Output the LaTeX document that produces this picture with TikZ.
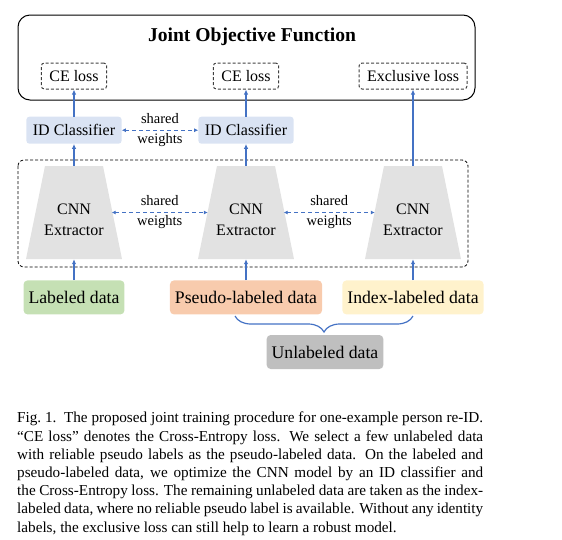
\documentclass[tikz,border=0pt]{standalone}
\usepackage{fontspec}
\setmainfont{Liberation Serif}
\usepackage{tikz}
\usetikzlibrary{positioning,arrows.meta,decorations.pathreplacing}

\definecolor{flowblue}{HTML}{4472C4}
\definecolor{clfblue}{HTML}{DAE3F3}
\definecolor{cnngray}{HTML}{E2E2E2}
\definecolor{labgreen}{HTML}{C5E0B4}
\definecolor{pseorange}{HTML}{F8CBAD}
\definecolor{idxyellow}{HTML}{FFF2CC}
\definecolor{unlgray}{HTML}{BFBFBF}

\begin{document}
\begin{tikzpicture}[x=1pt, y=-1pt, >={Latex[length=5pt,width=4.5pt]},
  lossbox/.style={draw=black!75, dash pattern=on 3pt off 2pt, line width=1pt,
    rounded corners=3pt, minimum height=26pt, inner xsep=8pt,
    font=\fontsize{16}{19}\selectfont},
  clfbox/.style={fill=clfblue, rounded corners=3pt, minimum height=27pt,
    inner xsep=6.5pt, font=\fontsize{16}{19}\selectfont},
  cnnbox/.style={minimum width=96pt, minimum height=93pt, path picture={
    \fill[cnngray] ([xshift=19pt]path picture bounding box.north west)
      -- ([xshift=-19pt]path picture bounding box.north east)
      -- (path picture bounding box.south east)
      -- (path picture bounding box.south west) -- cycle;}},
  cnntext/.style={align=center, font=\fontsize{16}{21}\selectfont},
  databox/.style={rounded corners=4pt, minimum height=34pt, inner xsep=5pt,
    font=\fontsize{17.7}{20}\selectfont},
  flow/.style={->, draw=flowblue, line width=1.2pt},
  sharedw/.style={<->, draw=flowblue, line width=1.2pt,
    dash pattern=on 4pt off 3pt, >={Latex[length=4pt,width=4pt]}},
  swlabel/.style={align=center, text=black, font=\fontsize{14.5}{20}\selectfont}]
  \useasboundingbox (0,0) rectangle (562,539);

  % objective
  \draw[line width=1pt, rounded corners=12pt] (18,15) rectangle (475,100);
  \node (title) at (252,37) {\fontsize{19.6}{22}\selectfont\bfseries Joint Objective Function};
  \node (ce1) [lossbox] at (74,76) {CE loss};
  \node (ce2) [lossbox] at (246,76) {CE loss};
  \node (exl) [lossbox] at (413,76) {Exclusive loss};

  % classifiers
  \node (id1) [clfbox, below=27pt of ce1] {ID Classifier};
  \node (id2) [clfbox, below=27pt of ce2] {ID Classifier};

  % extractors
  \draw[line width=0.8pt, dash pattern=on 3pt off 2pt, rounded corners=6pt] (18,160) rectangle (468,267);
  \node (cnn1) [cnnbox] at (74,212.5) {};
  \node (cnn2) [cnnbox] at (246,212.5) {};
  \node (cnn3) [cnnbox] at (413,212.5) {};
  \node (t1) [cnntext] at ([yshift=-7pt]cnn1.center) {CNN\\Extractor};
  \node (t2) [cnntext] at ([yshift=-7pt]cnn2.center) {CNN\\Extractor};
  \node (t3) [cnntext] at ([yshift=-7pt]cnn3.center) {CNN\\Extractor};

  % data
  \node (lab) [databox, fill=labgreen, below=21pt of cnn1] {Labeled data};
  \node (pse) [databox, fill=pseorange, below=21pt of cnn2] {Pseudo-labeled data};
  \node (idx) [databox, fill=idxyellow, below=21pt of cnn3] {Index-labeled data};
  \node (unl) [databox, fill=unlgray] at (325,352) {Unlabeled data};
  \coordinate (bl) at (235,316);
  \coordinate (br) at (413,316);

  \draw[flow] (lab) -- (cnn1);
  \draw[flow] (pse) -- (cnn2);
  \draw[flow] (idx) -- (cnn3);
  \draw[flow] (cnn1) -- (id1);
  \draw[flow] (cnn2) -- (id2);
  \draw[flow] (id1) -- (ce1);
  \draw[flow] (id2) -- (ce2);
  \draw[flow] (cnn3) -- (exl);
  \draw[sharedw] (id1) -- node[swlabel]{shared\\weights} (id2);
  \draw[sharedw] ([xshift=-10.5pt]cnn1.east) -- node[swlabel]{shared\\weights} ([xshift=10pt]cnn2.west);
  \draw[sharedw] ([xshift=-10.5pt]cnn2.east) -- node[swlabel]{shared\\weights} ([xshift=10pt]cnn3.west);
  \draw[flowblue, line width=1.2pt, decorate,
        decoration={brace, amplitude=16pt}] (br) -- (bl);

  % caption
  \node (cap) [anchor=north west, inner sep=0pt, text width=466pt, align=justify,
    font=\fontsize{15.2}{18.2}\selectfont] at (17,412)
  {\hyphenpenalty=10000\relax
   Fig.~1.\hspace{0.5em}The proposed joint training procedure for one-example person re-ID.\linebreak
   “CE loss” denotes the Cross-Entropy loss. We select a few unlabeled data\linebreak
   with reliable pseudo labels as the pseudo-labeled data. On the labeled and\linebreak
   pseudo-labeled data, we optimize the CNN model by an ID classifier and\linebreak
   the Cross-Entropy loss. The remaining unlabeled data are taken as the index-\linebreak
   labeled data, where no reliable pseudo label is available. Without any identity\linebreak
   labels, the exclusive loss can still help to learn a robust model.};
\end{tikzpicture}
\end{document}
